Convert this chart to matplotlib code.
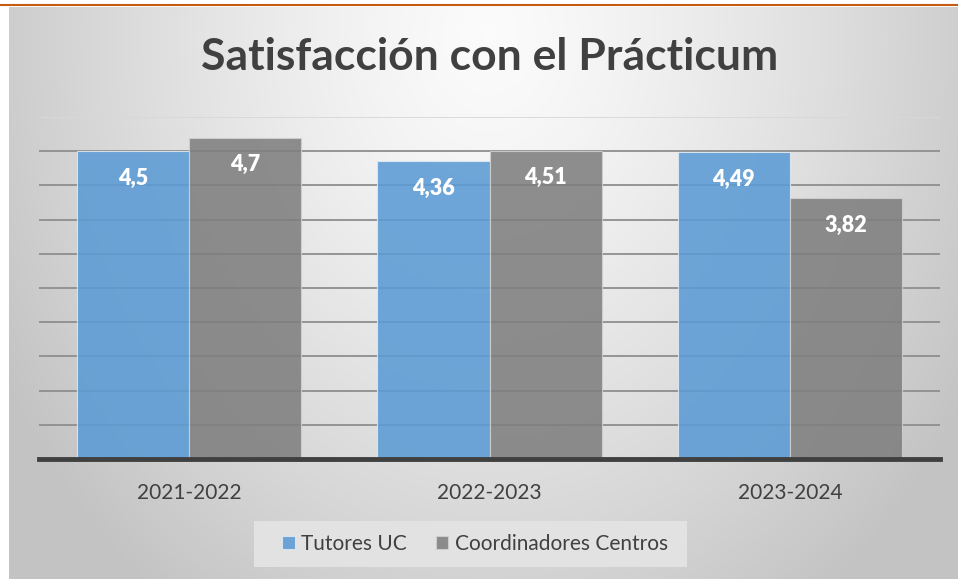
import numpy as np
import matplotlib.pyplot as plt
from matplotlib.patches import Rectangle

# Datos
cursos = ["2021-2022", "2022-2023", "2023-2024"]
tutores_uc = [4.5, 4.36, 4.49]
coordinadores = [4.7, 4.51, 3.82]
etiquetas_tutores = ["4,5", "4,36", "4,49"]
etiquetas_coord = ["4,7", "4,51", "3,82"]

W, H = 958, 579
fig = plt.figure(figsize=(W / 100, H / 100), dpi=100)
fig.patch.set_facecolor("white")
plt.rcParams['font.family'] = ['Lato', 'DejaVu Sans']

# Fondo con degradado radial
bg = fig.add_axes([9 / W, 0, (W - 9) / W, (H - 7) / H])
yy, xx = np.mgrid[0:H - 7, 0:W - 9]
cx, cy = 480, 30
r = np.sqrt(((xx - cx) / 560.0) ** 2 + ((yy - cy) / 700.0) ** 2)
r = np.clip(r, 0, 1)
grad = 0.985 - 0.22 * r ** 1.3
bg.imshow(np.dstack([grad, grad, grad]), aspect="auto", extent=[0, 1, 0, 1])
bg.set_axis_off()

# Linea naranja superior
fig.add_artist(plt.Line2D([0, 1], [1 - 5 / H, 1 - 5 / H], color="#c55a11",
                          lw=1.5, transform=fig.transFigure))

ax = fig.add_axes([39 / W, (H - 459) / H, (940 - 39) / W, (459 - 117) / H])
ax.set_facecolor("none")

x = np.arange(len(cursos))
ancho = 0.373
b1 = ax.bar(x - ancho / 2, tutores_uc, ancho, color="#5b9bd5", alpha=0.88,
            edgecolor="#dfe9f3", linewidth=0.8, label="Tutores UC", zorder=3)
b2 = ax.bar(x + ancho / 2, coordinadores, ancho, color="#7f7f7f", alpha=0.88,
            edgecolor="#d0d0d0", linewidth=0.8, label="Coordinadores Centros", zorder=3)

for barras, etiquetas in [(b1, etiquetas_tutores), (b2, etiquetas_coord)]:
    for barra, et in zip(barras, etiquetas):
        ax.text(barra.get_x() + barra.get_width() / 2, barra.get_height() - 0.4, et,
                ha="center", va="center", color="white", fontsize=15.5,
                fontweight="heavy", zorder=4)

ax.set_xlim(-0.5, 2.5)
ax.set_ylim(0, 5)
ax.set_yticks(np.arange(0, 5.01, 0.5))
ax.yaxis.grid(True, color="#8e8e8e", linewidth=1.3, zorder=1)
ax.get_ygridlines()[-1].set_color("#d8d8d8")
ax.tick_params(axis="y", left=False, labelleft=False)
ax.tick_params(axis="x", bottom=False, labelsize=15, labelcolor="#404040", pad=14)
ax.set_xticks(x)
ax.set_xticklabels(cursos)
for s in ["top", "right", "left"]:
    ax.spines[s].set_visible(False)
ax.spines["bottom"].set_color("#404040")
ax.spines["bottom"].set_linewidth(3.5)
ax.spines["bottom"].set_zorder(5)

fig.text(490 / W, 1 - 57 / H, "Satisfacción con el Prácticum", ha="center",
         va="center", fontsize=32, fontweight="bold", color="#404040")

# Leyenda
fig.add_artist(Rectangle((254 / W, 1 - 567 / H), (687 - 254) / W, 46 / H,
                         transform=fig.transFigure, facecolor="#e2e2e2",
                         edgecolor="none", zorder=2))
leg = fig.legend(handles=[b1, b2], loc="center", bbox_to_anchor=(475 / W, 1 - 544 / H),
                 ncol=2, frameon=False, fontsize=15, handlelength=0.6,
                 handleheight=0.6, handletextpad=0.3, columnspacing=1.4)
for t in leg.get_texts():
    t.set_color("#404040")
leg.set_zorder(3)

plt.savefig("out.png", dpi=100)
plt.close()
